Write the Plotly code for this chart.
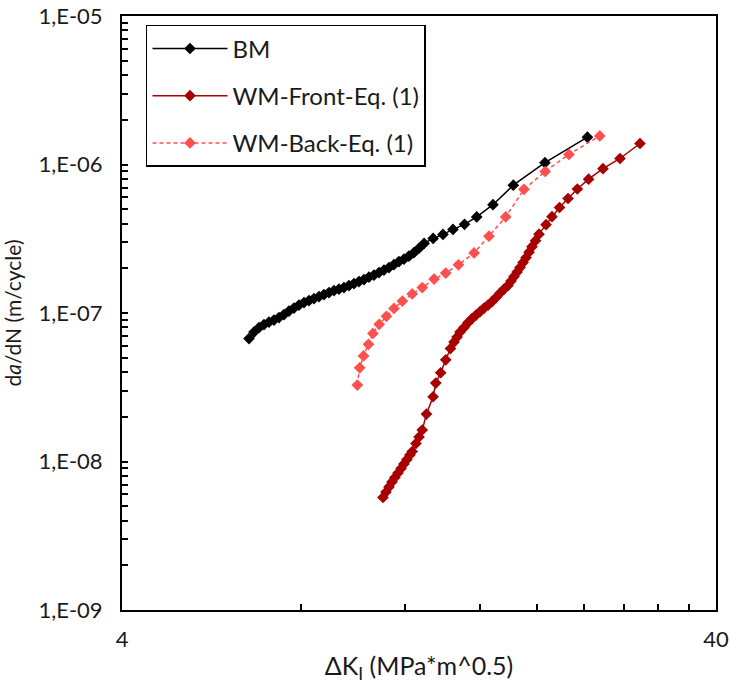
import plotly.graph_objects as go

# ---------------- data ----------------
bm_dk = [6.544, 6.672, 6.803, 6.936, 7.072, 7.210, 7.351, 7.495, 7.642, 7.791,
         7.944, 8.099, 8.258, 8.420, 8.584, 8.752, 8.923, 9.098, 9.276, 9.457,
         9.642, 9.831, 10.023, 10.219, 10.419, 10.623, 10.831, 11.043, 11.259, 11.479,
         11.703, 11.932, 12.166, 12.404, 12.65,
         12.90, 13.36, 13.88, 14.43, 15.09, 15.82, 16.85, 18.23, 20.61, 24.30]
bm_da = [6.724e-8, 7.437e-8, 7.975e-8, 8.355e-8, 8.685e-8, 8.958e-8, 9.311e-8, 9.755e-8, 1.030e-7, 1.0788e-7,
         1.1301e-7, 1.1749e-7, 1.2119e-7, 1.2500e-7, 1.2894e-7, 1.3300e-7, 1.3719e-7, 1.4152e-7, 1.4484e-7, 1.4825e-7,
         1.5292e-7, 1.5773e-7, 1.6270e-7, 1.6782e-7, 1.7445e-7, 1.7994e-7, 1.8705e-7, 1.9445e-7, 2.0213e-7, 2.1175e-7,
         2.2180e-7, 2.3056e-7, 2.4152e-7, 2.5497e-7, 2.73e-7,
         2.940e-7, 3.177e-7, 3.381e-7, 3.657e-7, 3.953e-7, 4.438e-7, 5.364e-7, 7.255e-7, 1.028e-6, 1.527e-6]

front_dk = [11.00, 11.13, 11.26, 11.39, 11.52, 11.66, 11.80, 11.93, 12.07, 12.21,
            12.32, 12.50, 12.65, 12.81, 13.02, 13.36, 13.50, 13.76, 14.03, 14.29,
            14.49, 14.66, 14.83, 15.06, 15.30, 15.54, 15.78, 16.03, 16.28, 16.53,
            16.79, 17.05, 17.32, 17.59, 17.86, 18.07, 18.28, 18.50, 18.71, 18.93,
            19.15, 19.38, 19.60, 19.87, 20.14, 20.70, 21.18, 21.81, 22.54, 23.37,
            24.41, 25.81, 27.57, 29.79]
front_da = [5.725e-9, 6.233e-9, 6.737e-9, 7.280e-9, 7.805e-9, 8.368e-9, 8.971e-9, 9.619e-9, 1.0315e-8, 1.1059e-8,
            1.1675e-8, 1.3216e-8, 1.4617e-8, 1.6294e-8, 2.0875e-8, 2.7291e-8, 3.3739e-8, 3.9589e-8, 4.8346e-8, 5.760e-8,
            6.371e-8, 6.883e-8, 7.437e-8, 7.975e-8, 8.618e-8, 9.169e-8, 9.680e-8, 1.0219e-7, 1.0788e-7, 1.1301e-7,
            1.1932e-7, 1.2696e-7, 1.3612e-7, 1.4484e-7, 1.5292e-7, 1.6396e-7, 1.7580e-7, 1.8850e-7, 2.0213e-7, 2.1839e-7,
            2.3597e-7, 2.5696e-7, 2.7975e-7, 3.0705e-7, 3.3967e-7, 3.9347e-7, 4.4522e-7, 5.134e-7, 5.904e-7, 6.842e-7,
            7.961e-7, 9.370e-7, 1.0977e-6, 1.3846e-6]

back_dk = [9.96, 10.05, 10.20, 10.40, 10.58, 10.84, 11.15, 11.48, 11.86, 12.32,
           12.81, 13.41, 14.03, 14.74, 15.66, 16.59, 17.70, 19.00, 20.63, 22.62, 25.49]
back_da = [3.271e-8, 4.271e-8, 5.143e-8, 6.156e-8, 7.289e-8, 8.394e-8, 9.501e-8, 1.0739e-7, 1.2025e-7, 1.3445e-7,
           1.4825e-7, 1.691e-7, 1.856e-7, 2.110e-7, 2.538e-7, 3.293e-7, 4.438e-7, 6.800e-7, 8.974e-7, 1.1695e-6, 1.5574e-6]

x_ticks = [4, 40]
x_ticktext = ["4", "40"]
x_minor = [8, 12, 16, 20, 24, 28, 32, 36]
y_ticks = [1e-9, 1e-8, 1e-7, 1e-6, 1e-5]
y_ticktext = ["1,E-09", "1,E-08", "1,E-07", "1,E-06", "1,E-05"]
y_minor = [m * 10.0 ** e for e in range(-9, -5) for m in range(2, 10)]

FONT = "Lato"
TXT = "#1a1a1a"

fig = go.Figure()
fig.add_trace(go.Scatter(x=bm_dk, y=bm_da, name="BM", mode="lines+markers", legendgroup="a",
                         line=dict(color="black", width=1.5),
                         marker=dict(symbol="diamond", size=9, color="black")))
fig.add_trace(go.Scatter(x=front_dk, y=front_da, name="WM-Front-Eq. (1)", mode="lines+markers",
                         legendgroup="b",
                         line=dict(color="#A80000", width=1.5),
                         marker=dict(symbol="diamond", size=9, color="#A80000")))
fig.add_trace(go.Scatter(x=back_dk, y=back_da, name="WM-Back-Eq. (1)", mode="lines+markers",
                         legendgroup="c",
                         line=dict(color="#FF4F4F", width=1.5, dash="4px,3px"),
                         marker=dict(symbol="diamond", size=9, color="#FF4F4F")))

axis_common = dict(showline=True, linecolor="black", linewidth=2, mirror=True,
                   showgrid=False, zeroline=False, ticks="inside", ticklen=6,
                   tickwidth=1.5, tickcolor="black", ticklabeloverflow="allow",
                   tickfont=dict(family=FONT, size=22, color=TXT))

fig.update_xaxes(type="log", range=[0.60206, 1.60206], tickmode="array",
                 tickvals=x_ticks, ticktext=x_ticktext, ticklabelstandoff=9,
                 minor=dict(tickmode="array", tickvals=x_minor, ticks="inside",
                            ticklen=6, tickwidth=1.5, tickcolor="black"),
                 title=dict(text="ΔK<sub>I</sub> (MPa*m^0.5)", standoff=6,
                            font=dict(family=FONT, size=25, color=TXT)),
                 **axis_common)
fig.update_yaxes(type="log", range=[-9, -5], tickmode="array",
                 tickvals=y_ticks, ticktext=y_ticktext, ticklabelstandoff=13,
                 minor=dict(tickmode="array", tickvals=y_minor, ticks="inside",
                            ticklen=6, tickwidth=1.5, tickcolor="black"),
                 title=dict(text="d<i>a</i>/dN (m/cycle)", standoff=12,
                            font=dict(family=FONT, size=21, color=TXT)),
                 **axis_common)

fig.update_layout(width=730, height=685, plot_bgcolor="white", paper_bgcolor="white",
                  margin=dict(l=122, r=14, t=16, b=75, autoexpand=False),
                  legend=dict(x=0.0404, y=0.985, xanchor="left", yanchor="top",
                              bordercolor="black", borderwidth=1.5, bgcolor="white",
                              font=dict(family=FONT, size=24, color=TXT),
                              tracegroupgap=13, itemwidth=75, valign="middle",
                              ))
# remove the browser's default 8 px body margin so the figure fills the window
fig.write_html("out.html", config={"displayModeBar": False},
               post_script="document.body.style.margin='0px';document.body.style.overflow='hidden';")
